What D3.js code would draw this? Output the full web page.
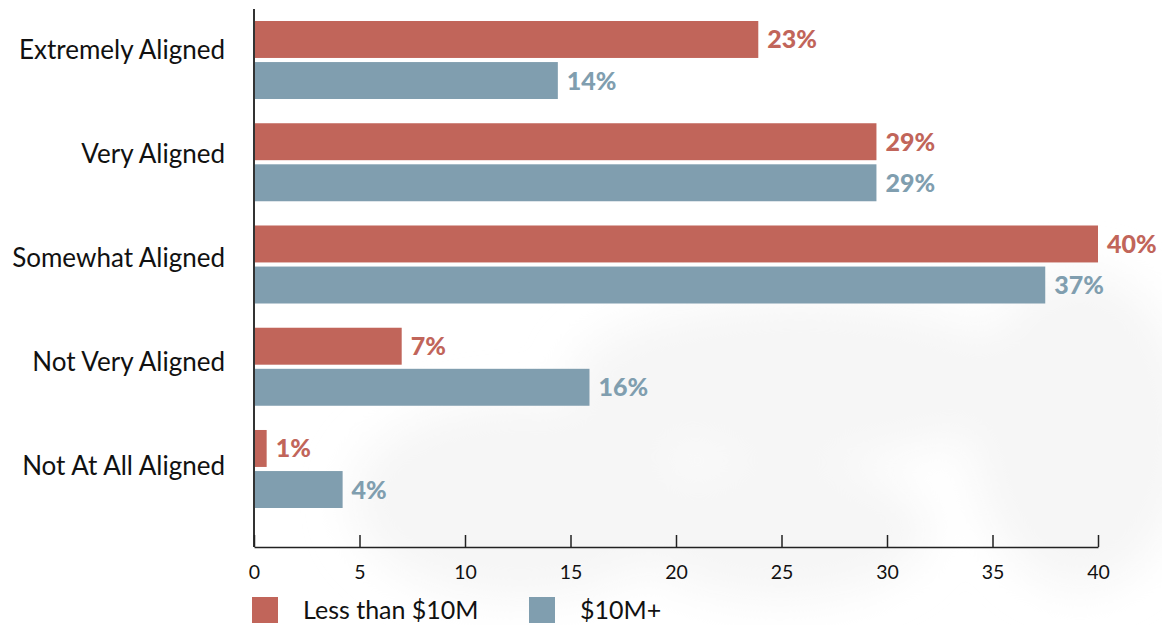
<!DOCTYPE html>
<html><head><meta charset="utf-8">
<script src="https://cdn.jsdelivr.net/npm/d3@7"></script>
<style>
body{margin:0;background:#fff;}
svg{display:block;font-family:Lato,"Noto Sans",sans-serif;}
</style></head>
<body><svg id="c" width="1162" height="625"></svg>
<script>
const categories = ["Extremely Aligned","Very Aligned","Somewhat Aligned","Not Very Aligned","Not At All Aligned"];
const seriesNames = ["Less than $10M","$10M+"];
const smallValues = [23.9, 29.5, 40.0, 7.0, 0.6];
const largeValues = [14.4, 29.5, 37.5, 15.9, 4.2];
const smallLabels = ["23%","29%","40%","7%","1%"];
const largeLabels = ["14%","29%","37%","16%","4%"];
const xTicks = [0,5,10,15,20,25,30,35,40];
const colors = ["#c1655a","#809eaf"];

const svg = d3.select("#c");
// faint background watermark
const defs = svg.append("defs");
defs.append("filter").attr("id","blur").attr("x","-50%").attr("y","-50%").attr("width","200%").attr("height","200%")
  .append("feGaussianBlur").attr("stdDeviation",22);
const wm = svg.append("g").attr("filter","url(#blur)").attr("fill","#f6f6f6");
wm.append("ellipse").attr("cx",520).attr("cy",500).attr("rx",170).attr("ry",100);
wm.append("ellipse").attr("cx",800).attr("cy",380).attr("rx",230).attr("ry",80);
wm.append("ellipse").attr("cx",1080).attr("cy",430).attr("rx",110).attr("ry",160);
wm.append("ellipse").attr("cx",780).attr("cy",530).attr("rx",150).attr("ry",70);

const x = d3.scaleLinear().domain([0,40]).range([254,1098]);
const y0 = d3.scaleBand().domain(categories).range([21,508]).paddingInner(0.237).paddingOuter(0);
const yLab = d3.scalePoint().domain(categories).range([50,466]);
const y1 = d3.scaleBand().domain(seriesNames).range([0,y0.bandwidth()]).paddingInner(0.1);

const data = categories.map((c,i)=>({c, vals:[
  {s:seriesNames[0], v:smallValues[i], l:smallLabels[i], col:colors[0]},
  {s:seriesNames[1], v:largeValues[i], l:largeLabels[i], col:colors[1]}]}));

const g = svg.selectAll("g.cat").data(data).join("g").attr("class","cat")
  .attr("transform",d=>`translate(0,${y0(d.c)})`);
g.selectAll("rect").data(d=>d.vals).join("rect")
  .attr("x",x(0)).attr("y",d=>y1(d.s)).attr("width",d=>x(d.v)-x(0)).attr("height",y1.bandwidth())
  .attr("fill",d=>d.col);
g.selectAll("text").data(d=>d.vals).join("text")
  .attr("x",d=>x(d.v)+9).attr("y",d=>y1(d.s)+y1.bandwidth()/2).attr("dy","0.36em")
  .attr("fill",d=>d.col).attr("font-weight","900").attr("font-size",25).text(d=>d.l);

// category labels
svg.append("g").selectAll("text").data(categories).join("text")
  .attr("x",225).attr("y",d=>yLab(d)).attr("dy","0.35em").attr("text-anchor","end")
  .attr("font-size",26).attr("fill","#111").text(d=>d);

// y axis line
svg.append("line").attr("x1",254).attr("x2",254).attr("y1",9).attr("y2",547)
  .attr("stroke","#333").attr("stroke-width",2);

// x axis
const xa = svg.append("g").attr("transform","translate(0,547)")
  .call(d3.axisBottom(x).tickValues(xTicks).tickSize(-12).tickSizeOuter(0).tickPadding(18));
xa.select(".domain").attr("stroke","#222").attr("stroke-width",1.5);
xa.selectAll(".tick line").attr("stroke","#222").attr("stroke-width",1.5);
xa.selectAll(".tick text").attr("font-size",19.5).attr("fill","#111").attr("font-family","Lato,'Noto Sans',sans-serif");

// legend
const lg = svg.append("g");
const legX = [252,529];
seriesNames.forEach((s,i)=>{
  lg.append("rect").attr("x",legX[i]).attr("y",597).attr("width",26).attr("height",26).attr("fill",colors[i]);
  lg.append("text").attr("x",legX[i]+51).attr("y",610).attr("dy","0.35em").attr("font-size",25).attr("fill","#111").text(s);
});
</script></body></html>
